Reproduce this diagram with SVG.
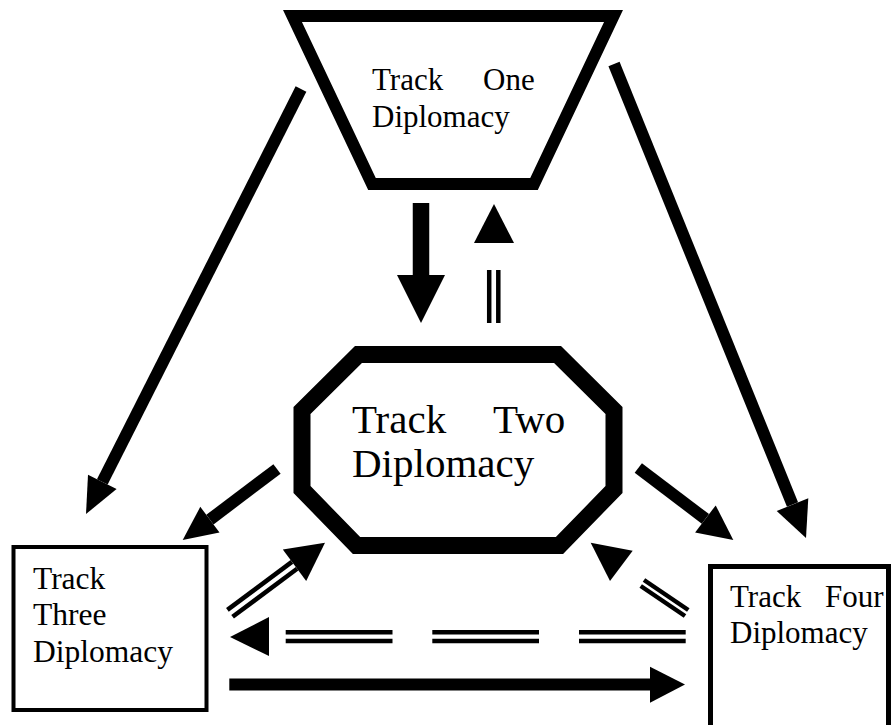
<svg xmlns="http://www.w3.org/2000/svg" width="892" height="725" viewBox="0 0 892 725">
<style>
.lbl{font-family:"Liberation Serif","Times New Roman",serif;fill:#000}
.node{fill:#fff;stroke:#000;stroke-linejoin:miter}
.shaft{stroke:#000;fill:none;stroke-linecap:butt}
.thin{stroke:#000;fill:none;stroke-width:4.5;stroke-linecap:butt}
.head{fill:#000;stroke:none}
</style>
<rect width="892" height="725" fill="#fff"/>
<g id="track-one">
<polygon class="node" points="292.5,16 613.5,16 534,184 372,184" stroke-width="12"/>
<text class="lbl" font-size="31" x="372" y="90">Track</text>
<text class="lbl" font-size="31" x="483" y="90">One</text>
<text class="lbl" font-size="31" x="372" y="127">Diplomacy</text>
</g>
<g id="track-two">
<polygon class="node" points="358.5,354.5 557.5,354.5 614,410.5 614,489.5 559.5,545.5 356.5,545.5 302,489.5 302,410.5" stroke-width="17"/>
<text class="lbl" font-size="41" x="352" y="433">Track</text>
<text class="lbl" font-size="41" x="493" y="433">Two</text>
<text class="lbl" font-size="41" x="352" y="477">Diplomacy</text>
</g>
<g id="track-three">
<rect class="node" x="13.5" y="547" width="193" height="163" stroke-width="4"/>
<text class="lbl" font-size="31.5" x="33" y="589">Track</text>
<text class="lbl" font-size="31.5" x="33" y="625">Three</text>
<text class="lbl" font-size="31.5" x="33" y="662">Diplomacy</text>
</g>
<g id="track-four">
<rect class="node" x="710.5" y="566.5" width="178" height="200" stroke-width="5"/>
<text class="lbl" font-size="31" x="730" y="607">Track</text>
<text class="lbl" font-size="31" x="825" y="607">Four</text>
<text class="lbl" font-size="31" x="730" y="643">Diplomacy</text>
</g>
<g id="connectors">
<!-- Track One -> Track Three -->
<line class="shaft" stroke-width="12" x1="301" y1="89" x2="102.3" y2="481.9"/>
<polygon class="head" points="86,514 116.6,489.1 88,474.7"/>
<!-- Track One -> Track Four -->
<line class="shaft" stroke-width="12" x1="614" y1="64" x2="792.5" y2="504.6"/>
<polygon class="head" points="806,538 808.3,498.2 776.7,511"/>
<!-- Track One -> Track Two -->
<line class="shaft" stroke-width="16.5" x1="421" y1="203" x2="421" y2="276"/>
<polygon class="head" points="397,275 445,275 421,323"/>
<!-- Track Two -> Track One (double) -->
<polygon class="head" points="494,204 474,243 514,243"/>
<line class="thin" x1="489.2" y1="270" x2="489.2" y2="323"/>
<line class="thin" x1="498.3" y1="270" x2="498.3" y2="323"/>
<!-- Track Two -> Track Three -->
<line class="shaft" stroke-width="12" x1="277" y1="469" x2="209.9" y2="519.6"/>
<polygon class="head" points="182.7,540 219.5,532.4 200.3,506.8"/>
<!-- Track Two -> Track Four -->
<line class="shaft" stroke-width="12" x1="638.3" y1="468" x2="705.4" y2="518.9"/>
<polygon class="head" points="733.3,540 715.7,505.4 695.1,532.4"/>
<!-- Track Three -> Track Two (double) -->
<line class="thin" x1="227.4" y1="609.9" x2="291.9" y2="561.9"/>
<line class="thin" x1="232.6" y1="616.8" x2="297.1" y2="568.8"/>
<polygon class="head" points="325,542.7 306.2,581.1 282.8,549.5"/>
<!-- Track Four -> Track Two (double) -->
<polygon class="head" points="590.7,542.7 632.7,550.7 610,581"/>
<line class="thin" x1="644" y1="580" x2="688.3" y2="610"/>
<line class="thin" x1="640.7" y1="586" x2="685" y2="616"/>
<!-- Track Four -> Track Three (double, broken) -->
<polygon class="head" points="230,637 269,617 269,656"/>
<line class="thin" x1="285.7" y1="632.2" x2="392.5" y2="632.2"/>
<line class="thin" x1="285.7" y1="641" x2="392.5" y2="641"/>
<line class="thin" x1="432.3" y1="632.2" x2="539" y2="632.2"/>
<line class="thin" x1="432.3" y1="641" x2="539" y2="641"/>
<line class="thin" x1="579" y1="632.2" x2="685.7" y2="632.2"/>
<line class="thin" x1="579" y1="641" x2="685.7" y2="641"/>
<!-- Track Three -> Track Four -->
<line class="shaft" stroke-width="12" x1="229.3" y1="684.5" x2="651" y2="684.5"/>
<polygon class="head" points="650,666.7 650,702.7 685,684.5"/>
</g>
</svg>
